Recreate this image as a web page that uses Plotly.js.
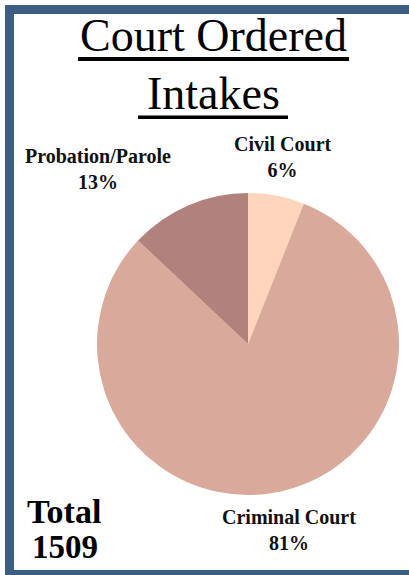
<!DOCTYPE html>
<html>
<head>
<meta charset="utf-8">
<script src="https://cdn.plot.ly/plotly-3.0.1.min.js"></script>
<style>
html,body{margin:0;padding:0;background:#fff;}
#chart{width:409px;height:575px;}
</style>
</head>
<body>
<div id="chart"></div>
<script>
// Data
var categories = ["Civil Court", "Criminal Court", "Probation/Parole"];
var intakes = [91, 1222, 196];
var sliceColors = ["#FDD5BC", "#D9AA9B", "#B1817D"];
var titleLines = ["Court Ordered", "Intakes"];

var total = intakes.reduce(function(a, b){ return a + b; }, 0);
var pct = intakes.map(function(v){ return Math.round(v / total * 100) + "%"; });

var W = 409, H = 575;
function px(x){ return x / W; }
function py(y){ return 1 - y / H; }

var FONT = "Liberation Serif, DejaVu Serif, serif";
var frameColor = "#3D5E84";

var trace = {
  type: "pie",
  labels: categories,
  values: intakes,
  sort: false,
  direction: "clockwise",
  rotation: 0,
  textinfo: "none",
  hoverinfo: "label+percent",
  marker: { colors: sliceColors, line: { width: 0 } },
  domain: { x: [px(97), px(399)], y: [py(495), py(193)] },
  showlegend: false
};

// label positions (centre x, middle y) in pixels
var labelPos = [[283, 157], [289, 530], [98, 169]];
var annotations = categories.map(function(c, i){
  return {
    xref: "paper", yref: "paper",
    x: px(labelPos[i][0]), y: py(labelPos[i][1]),
    xanchor: "center", yanchor: "middle",
    text: "<b>" + c + "</b><br><b>" + pct[i] + "</b>",
    showarrow: false,
    font: { family: FONT, size: 20, color: "#111" }
  };
});
annotations.push({
  xref: "paper", yref: "paper", x: px(64), y: py(511),
  xanchor: "center", yanchor: "middle",
  text: "<b>Total</b>", showarrow: false,
  font: { family: FONT, size: 34, color: "#000" }
});
annotations.push({
  xref: "paper", yref: "paper", x: px(65), y: py(547),
  xanchor: "center", yanchor: "middle",
  text: "<b>" + total + "</b>", showarrow: false,
  font: { family: FONT, size: 33, color: "#000" }
});
// title lines
annotations.push({
  xref: "paper", yref: "paper", x: px(213), y: py(36),
  xanchor: "center", yanchor: "middle",
  text: titleLines[0], showarrow: false,
  font: { family: FONT, size: 46, color: "#000" }
});
annotations.push({
  xref: "paper", yref: "paper", x: px(213), y: py(93),
  xanchor: "center", yanchor: "middle",
  text: titleLines[1], showarrow: false,
  font: { family: FONT, size: 46, color: "#000" }
});

var shapes = [
  // frame: left, top, bottom
  { type: "rect", xref: "paper", yref: "paper", x0: px(5), x1: px(14), y0: py(575), y1: py(5), fillcolor: frameColor, line: { width: 0 } },
  { type: "rect", xref: "paper", yref: "paper", x0: px(5), x1: px(409), y0: py(14), y1: py(5), fillcolor: frameColor, line: { width: 0 } },
  { type: "rect", xref: "paper", yref: "paper", x0: px(5), x1: px(409), y0: py(575), y1: py(570), fillcolor: frameColor, line: { width: 0 } },
  // title underlines
  { type: "rect", xref: "paper", yref: "paper", x0: px(78), x1: px(349), y0: py(61), y1: py(57), fillcolor: "#000", line: { width: 0 } },
  { type: "rect", xref: "paper", yref: "paper", x0: px(138), x1: px(288), y0: py(119), y1: py(115.5), fillcolor: "#000", line: { width: 0 } }
];

var layout = {
  width: W, height: H,
  margin: { l: 0, r: 0, t: 0, b: 0 },
  paper_bgcolor: "#fff",
  showlegend: false,
  annotations: annotations,
  shapes: shapes
};

Plotly.newPlot("chart", [trace], layout, { displayModeBar: false, staticPlot: true });
</script>
</body>
</html>
